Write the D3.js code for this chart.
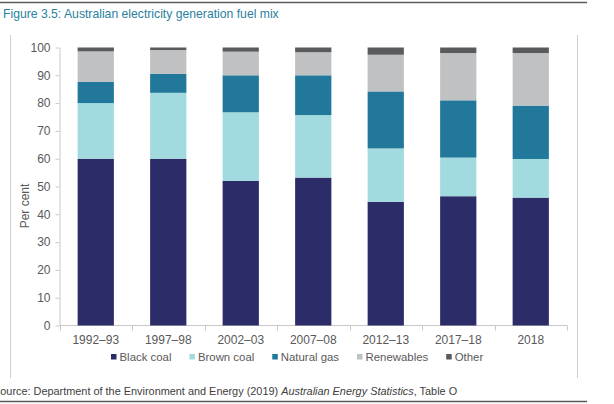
<!DOCTYPE html>
<html>
<head>
<meta charset="utf-8">
<script src="https://cdn.jsdelivr.net/npm/d3@7"></script>
<style>
	body { margin: 0; background: #fff; }
	svg { display: block; font-family: "Liberation Sans", Arial, sans-serif; }
	.axis path, .axis line { stroke: #c8c8c8; }
	.axis text { fill: #595959; font-size: 12px; font-family: "Liberation Sans", Arial, sans-serif; }
</style>
</head>
<body>
<svg id="chart" width="614" height="404"></svg>
<script>

//------------------------------------------------------------------------------
// Data (per cent of generation)

var categories = ['1992–93', '1997–98', '2002–03', '2007–08', '2012–13', '2017–18', '2018'];
var blackCoal  = [60, 60, 52, 53.2, 44.5, 46.5, 46];
var brownCoal  = [20, 23.7, 24.7, 22.5, 19.2, 13.9, 13.9];
var naturalGas = [7.6, 6.8, 13.3, 14.3, 20.5, 20.6, 19.2];
var renewables = [11, 8.6, 8.5, 8.3, 13.2, 17, 18.9];
var other      = [1.4, 0.9, 1.5, 1.7, 2.6, 2, 2];
var yTicks     = [0, 10, 20, 30, 40, 50, 60, 70, 80, 90, 100];

var seriesNames  = ['Black coal', 'Brown coal', 'Natural gas', 'Renewables', 'Other'];
var seriesValues = [blackCoal, brownCoal, naturalGas, renewables, other];
var seriesColors = ['#2b2c68', '#a1dbe0', '#21789a', '#bfc1c2', '#595a5c'];

var rows = categories.map(function (c, i) {
	var row = { category: c };
	seriesNames.forEach(function (name, j) { row[name] = seriesValues[j][i]; });
	return row;
});

//------------------------------------------------------------------------------
// Frame and titles

var svg = d3.select('#chart');

svg.append('line')
	.attr('x1', 0).attr('x2', 587).attr('y1', 2.5).attr('y2', 2.5)
	.attr('stroke', '#5a5a5a').attr('stroke-width', 1.3);
svg.append('line')
	.attr('x1', 0).attr('x2', 587).attr('y1', 401.5).attr('y2', 401.5)
	.attr('stroke', '#5a5a5a').attr('stroke-width', 1.3);

svg.append('text')
	.attr('x', 3).attr('y', 17.5)
	.attr('fill', '#2a7fa0')
	.style('font-size', '12.2px')
	.text('Figure 3.5: Australian electricity generation fuel mix');

[10.5, 577.5].forEach(function (x) {
	svg.append('line')
		.attr('x1', x).attr('x2', x).attr('y1', 35).attr('y2', 378)
		.attr('stroke', '#cfcfcf');
});

// the page crop cuts the first letter off, as in the original figure
var source = svg.append('text')
	.attr('x', -7).attr('y', 394.5)
	.attr('fill', '#404040')
	.style('font-size', '10.9px');
source.append('tspan').text('Source: Department of the Environment and Energy (2019) ');
source.append('tspan').style('font-style', 'italic').text('Australian Energy Statistics');
source.append('tspan').text(', Table O');

//------------------------------------------------------------------------------
// Scales and axes

var x = d3.scaleBand()
	.domain(categories)
	.range([59.5, 567])
	.paddingInner(0.5)
	.paddingOuter(0.25);

var y = d3.scaleLinear()
	.domain([0, 100])
	.range([325.5, 47.5]);

svg.append('g')
	.attr('class', 'axis')
	.attr('transform', 'translate(59.5,0)')
	.call(d3.axisLeft(y).tickValues(yTicks).tickSize(4).tickPadding(5).tickSizeOuter(0));

var xAxis = svg.append('g')
	.attr('class', 'axis')
	.attr('transform', 'translate(0,325.5)')
	.call(d3.axisBottom(x).tickSize(0).tickPadding(10));
xAxis.select('.domain').remove();

// baseline with ticks on the category boundaries
var step = x.step();
var bounds = categories.map(function (c) { return x(c) - (step - x.bandwidth()) / 2; });
bounds.push(bounds[bounds.length - 1] + step);

xAxis.append('line')
	.attr('x1', bounds[0]).attr('x2', bounds[bounds.length - 1])
	.attr('stroke', '#c8c8c8');
xAxis.selectAll('line.bound')
	.data(bounds)
	.enter().append('line')
	.attr('class', 'bound')
	.attr('x1', function (d) { return Math.round(d) + 0.5; })
	.attr('x2', function (d) { return Math.round(d) + 0.5; })
	.attr('y1', 0).attr('y2', 5)
	.attr('stroke', '#c8c8c8');

svg.append('text')
	.attr('transform', 'translate(29,206) rotate(-90)')
	.attr('text-anchor', 'middle')
	.attr('fill', '#595959')
	.style('font-size', '12px')
	.text('Per cent');

//------------------------------------------------------------------------------
// Bars

var stacked = d3.stack().keys(seriesNames)(rows);

svg.append('g')
	.selectAll('g')
	.data(stacked)
	.enter().append('g')
	.attr('fill', function (d, i) { return seriesColors[i]; })
	.selectAll('rect')
	.data(function (d) { return d; })
	.enter().append('rect')
	.attr('x', function (d) { return x(d.data.category); })
	.attr('width', x.bandwidth())
	.attr('y', function (d) { return y(d[1]); })
	.attr('height', function (d) { return y(d[0]) - y(d[1]); });

//------------------------------------------------------------------------------
// Legend

var legend = svg.append('g').attr('transform', 'translate(111,357)');
var cursor = 0;

seriesNames.forEach(function (name, i) {
	var item = legend.append('g').attr('transform', 'translate(' + cursor + ',0)');
	item.append('rect')
		.attr('x', 0).attr('y', -3)
		.attr('width', 5.5).attr('height', 5.5)
		.attr('fill', seriesColors[i]);
	var label = item.append('text')
		.attr('x', 8.5).attr('y', 4.3)
		.attr('fill', '#595959')
		.style('font-size', '11.4px')
		.text(name);
	cursor += 8.5 + label.node().getComputedTextLength() + 18;
});

</script>
</body>
</html>
